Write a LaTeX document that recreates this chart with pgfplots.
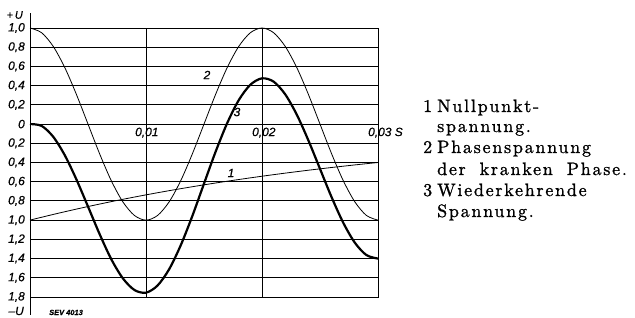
\documentclass[border=0pt]{standalone}
\usepackage{fontspec}
\usepackage{pgfplots}
\usepackage{pgfplotstable}
\pgfplotsset{compat=1.18}
\newfontfamily\lab{Liberation Sans}[FakeBold=0.6]
\newfontfamily\leg{lmroman10-regular.otf}[LetterSpace=10, FakeBold=1.2, WordSpace=1.8]
\newcommand\lb{\lab\itshape\fontsize{12}{13}\selectfont}
\newcommand\lgd{\leg\fontsize{18}{21}\selectfont}

\pgfplotstableread{
t u1 u2 u3
0.000 -1.0000 1.0000 0.0000
0.001 -0.9699 0.9511 -0.0188
0.002 -0.9407 0.8090 -0.1317
0.003 -0.9124 0.5878 -0.3246
0.004 -0.8850 0.3090 -0.5760
0.005 -0.8584 0.0000 -0.8584
0.006 -0.8326 -0.3090 -1.1450
0.007 -0.8075 -0.5878 -1.4050
0.008 -0.7832 -0.8090 -1.6050
0.009 -0.7597 -0.9511 -1.7270
0.010 -0.7368 -1.0000 -1.7550
0.011 -0.7146 -0.9511 -1.6800
0.012 -0.6931 -0.8090 -1.5100
0.013 -0.6723 -0.5878 -1.2600
0.014 -0.6521 -0.3090 -0.9550
0.015 -0.6324 0.0000 -0.6200
0.016 -0.6134 0.3090 -0.2880
0.017 -0.5950 0.5878 0.0100
0.018 -0.5771 0.8090 0.2500
0.019 -0.5597 0.9511 0.4100
0.020 -0.5429 1.0000 0.4760
0.021 -0.5265 0.9511 0.4420
0.022 -0.5107 0.8090 0.3100
0.023 -0.4953 0.5878 0.0980
0.024 -0.4804 0.3090 -0.1700
0.025 -0.4660 0.0000 -0.4660
0.026 -0.4520 -0.3090 -0.7610
0.027 -0.4384 -0.5878 -1.0262
0.028 -0.4252 -0.8090 -1.2342
0.029 -0.4124 -0.9511 -1.3635
0.030 -0.4000 -1.0000 -1.4000
}\data

\begin{document}
\begin{tikzpicture}
\path[use as bounding box] (0,0) rectangle (635bp,318bp);
\begin{axis}[
  at={(30bp,21bp)}, anchor=south west,
  scale only axis, width=348bp, height=269bp,
  xmin=0, xmax=0.03, ymin=-1.8, ymax=1.0,
  xtick={0,0.01,0.02,0.03}, xticklabels={,,,},
  scaled x ticks=false,
  ytick={-1.8,-1.6,-1.4,-1.2,-1.0,-0.8,-0.6,-0.4,-0.2,0,0.2,0.4,0.6,0.8,1.0},
  yticklabels={{1,8},{1,6},{1,4},{1,2},{1,0},{0,8},{0,6},{0,4},{0,2},{0},{0,2},{0,4},{0,6},{0,8},{1,0}},
  yticklabel style={font=\lb, anchor=east, inner sep=0pt, xshift=-5bp},
  grid=major,
  major grid style={line width=0.9bp, black},
  major tick length=0pt,
  axis line style={line width=0.9bp, black},
  clip=false,
]
\addplot[black, line width=0.8bp] table[x=t, y=u1] {\data};
\addplot[black, line width=0.8bp, smooth] table[x=t, y=u2] {\data};
\addplot[black, line width=2.2bp, smooth] table[x=t, y=u3] {\data};
\node[anchor=base west, font=\lb, inner sep=0pt] at ([xshift=-11bp, yshift=-12bp]axis cs:0.01,0) {0,01};
\node[anchor=base west, font=\lb, inner sep=0pt] at ([xshift=-10bp, yshift=-12bp]axis cs:0.02,0) {0,02};
\node[anchor=base west, font=\lb, inner sep=0pt] at ([xshift=-10bp, yshift=-12bp]axis cs:0.03,0) {0,03 S};
\end{axis}
\draw[line width=1bp] (30bp,3bp) -- (30bp,305bp);
\node[anchor=east, font=\lab\itshape\fontsize{11}{12}\selectfont, inner sep=0pt] at (23bp,303bp) {+\,U};
\node[anchor=east, font=\lab\itshape\fontsize{12}{13}\selectfont, inner sep=0pt] at (24bp,7bp) {\textendash U};
\node[anchor=base west, font=\lab\itshape\bfseries\fontsize{7.5}{8}\selectfont, inner sep=0pt] at (49bp,3bp) {SEV 4013};
\node[font=\lb, inner sep=0pt] at (207bp,243bp) {2};
\node[font=\lb, inner sep=0pt] at (237bp,206bp) {3};
\node[font=\lb, inner sep=0pt] at (231bp,145bp) {1};
\node[anchor=base west, font=\lgd, inner sep=0pt] at (423bp,206bp) {1};
\node[anchor=base west, font=\lgd, inner sep=0pt] at (437bp,206bp) {Nullpunkt-};
\node[anchor=base west, font=\lgd, inner sep=0pt] at (437bp,186bp) {spannung.};
\node[anchor=base west, font=\lgd, inner sep=0pt] at (423bp,165bp) {2};
\node[anchor=base west, font=\lgd, inner sep=0pt] at (437bp,165bp) {Phasenspannung};
\node[anchor=base west, font=\lgd, inner sep=0pt] at (437bp,143bp) {der kranken Phase.};
\node[anchor=base west, font=\lgd, inner sep=0pt] at (423bp,122bp) {3};
\node[anchor=base west, font=\lgd, inner sep=0pt] at (437bp,122bp) {Wiederkehrende};
\node[anchor=base west, font=\lgd, inner sep=0pt] at (437bp,101bp) {Spannung.};
\end{tikzpicture}
\end{document}
